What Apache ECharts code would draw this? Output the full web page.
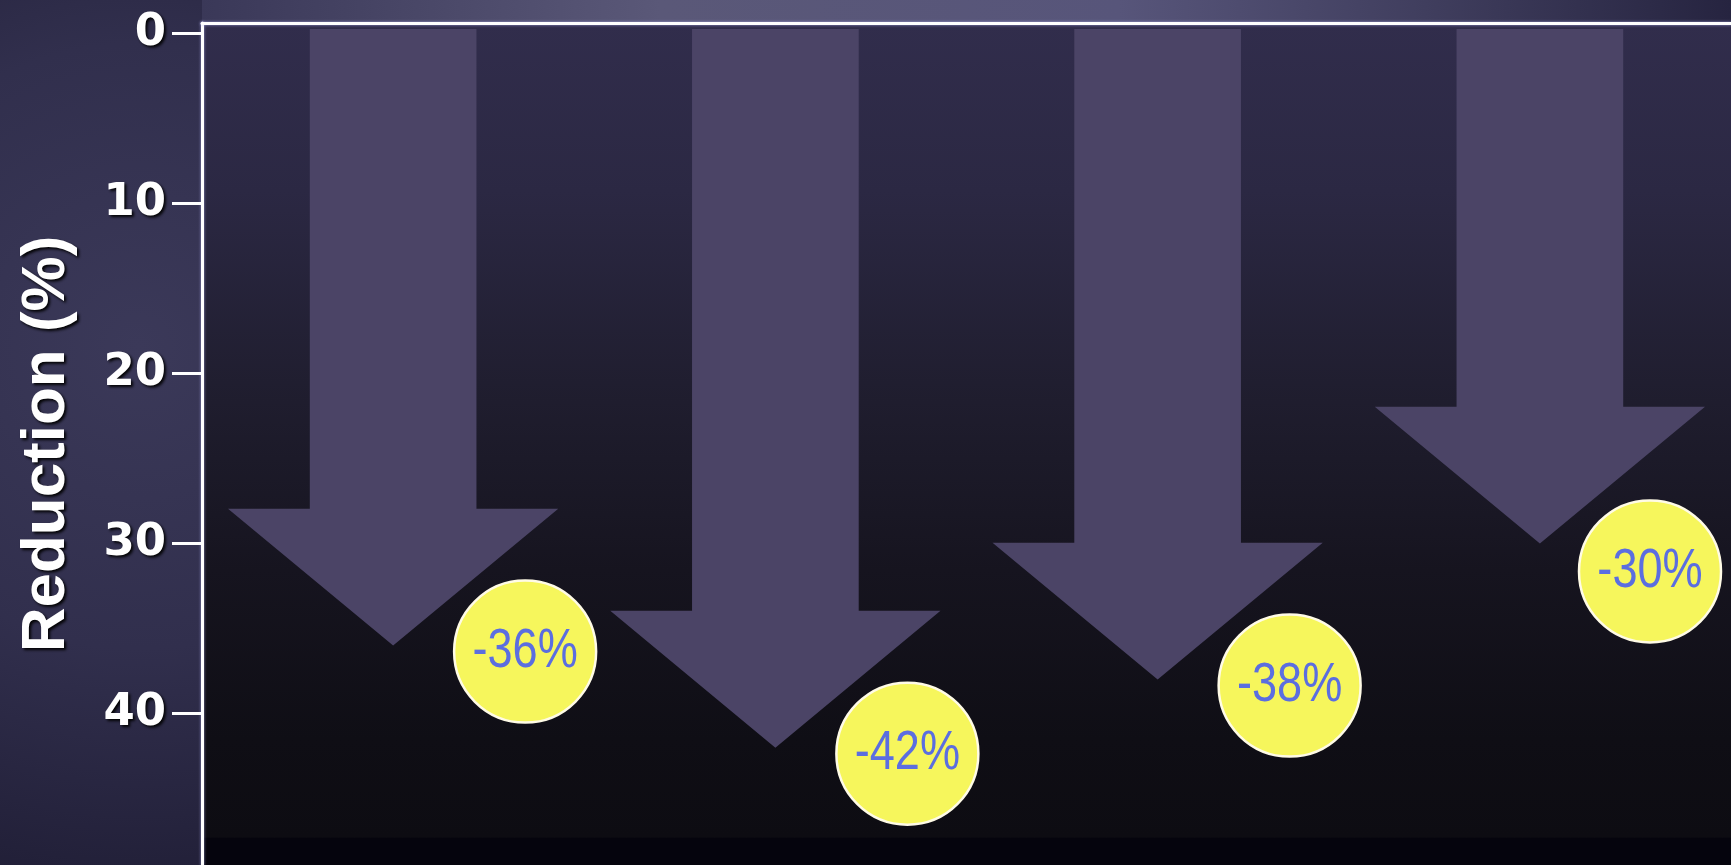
<!DOCTYPE html>
<html>
<head>
<meta charset="utf-8">
<title>Reduction (%)</title>
<script src="https://cdn.jsdelivr.net/npm/echarts@6/dist/echarts.min.js"></script>
<style>
  html, body { margin: 0; padding: 0; background: #1e1c34; }
  #chart { width: 1731px; height: 865px; }
</style>
</head>
<body>
<div id="chart"></div>
<script>
// Four groups, each showing its percentage reduction as a down arrow
const categories = ['1', '2', '3', '4'];
const reductions = [36, 42, 38, 30];
const tickValues = [0, 10, 20, 30, 40];

const chart = echarts.init(document.getElementById('chart'), null, { renderer: 'canvas' });
const W = chart.getWidth();

const arrowColor = '#4b4466';
const badgeRadius = 71;

function renderArrow(params, api) {
  const idx = api.value(0);
  const v = api.value(1);
  const band = api.size([1, 0])[0];
  const tip = api.coord([idx, v]);
  const cs = params.coordSys;
  const top = cs.y + 6;
  const cx = tip[0];
  const shaftHalf = band * 0.218;
  const headHalf = band * 0.432;
  const headLen = band * 0.358;
  const shoulder = tip[1] - headLen;
  const points = [
    [cx - shaftHalf, top],
    [cx + shaftHalf, top],
    [cx + shaftHalf, shoulder],
    [cx + headHalf, shoulder],
    [cx, tip[1]],
    [cx - headHalf, shoulder],
    [cx - shaftHalf, shoulder]
  ];
  // badge sits beside the arrow head, kept inside the canvas
  let bx = cx + 132;
  const maxX = api.getWidth() - badgeRadius - 10;
  const push = Math.max(0, bx - maxX);
  bx -= push;
  const by = tip[1] + 6 + push;
  return {
    type: 'group',
    children: [
      { type: 'polygon', shape: { points: points }, style: { fill: arrowColor } },
      {
        type: 'circle',
        shape: { cx: bx, cy: by, r: badgeRadius },
        style: { fill: '#f6f65c', stroke: '#fffbe6', lineWidth: 2.5 }
      },
      {
        // condensed lettering inside the badge
        type: 'text',
        x: bx, y: by,
        scaleX: 0.82,
        style: {
          text: '-' + v + '%',
          x: 0, y: 0,
          align: 'center', verticalAlign: 'middle',
          fill: '#5b6ee0',
          font: '55px "Liberation Sans", Arial, sans-serif'
        }
      }
    ]
  };
}

const labelShadow = {
  textShadowColor: 'rgba(0,0,0,0.95)',
  textShadowBlur: 3,
  textShadowOffsetX: 2,
  textShadowOffsetY: 2
};

const axisLineStyle = {
  color: '#ffffff', width: 3,
  shadowColor: 'rgba(190,190,255,0.7)', shadowBlur: 3
};

const option = {
  backgroundColor: new echarts.graphic.RadialGradient(0.08, 0.4, 0.7, [
    { offset: 0, color: '#3b3959' },
    { offset: 0.5, color: '#312f4d' },
    { offset: 1, color: '#1d1b32' }
  ]),
  animation: false,
  graphic: [{
    type: 'rect',
    left: 202, top: 0, z: -1,
    shape: { width: W - 202, height: 23 },
    style: {
      fill: new echarts.graphic.LinearGradient(0, 0, 1, 0, [
        { offset: 0, color: '#3a3858' },
        { offset: 0.3, color: '#5a5878' },
        { offset: 0.6, color: '#57557a' },
        { offset: 0.8, color: '#403e5e' },
        { offset: 1, color: '#262440' }
      ])
    }
  }],
  grid: {
    left: 202, right: -12, top: 23, bottom: 0,
    show: true, borderWidth: 0,
    backgroundColor: new echarts.graphic.LinearGradient(0, 0, 0, 1, [
      { offset: 0, color: '#312d4c' },
      { offset: 0.2, color: '#2b2843' },
      { offset: 0.45, color: '#1f1d2e' },
      { offset: 0.65, color: '#16141f' },
      { offset: 0.85, color: '#0f0e15' },
      { offset: 0.967, color: '#0d0c12' },
      { offset: 0.968, color: '#05040d' },
      { offset: 1, color: '#05040d' }
    ])
  },
  xAxis: {
    type: 'category',
    data: categories,
    position: 'top',
    axisLine: { show: true, onZero: false, lineStyle: axisLineStyle },
    axisTick: { show: false },
    axisLabel: { show: false },
    splitLine: { show: false }
  },
  yAxis: {
    type: 'value',
    inverse: true,
    min: -0.6,
    max: 48.9,
    name: 'Reduction (%)',
    nameLocation: 'middle',
    nameRotate: 90,
    nameGap: 124,
    nameTextStyle: Object.assign({
      color: '#ffffff',
      fontSize: 62,
      fontWeight: 'bold',
      fontFamily: '"Liberation Sans", Arial, sans-serif'
    }, labelShadow),
    axisLine: { show: true, onZero: false, lineStyle: axisLineStyle },
    axisTick: {
      show: true,
      inside: false,
      length: 30,
      customValues: tickValues,
      lineStyle: { color: '#ffffff', width: 3 }
    },
    axisLabel: Object.assign({
      customValues: tickValues,
      color: '#ffffff',
      fontSize: 45,
      fontWeight: 'bold',
      fontFamily: '"DejaVu Sans", sans-serif',
      margin: 36
    }, labelShadow),
    splitLine: { show: false }
  },
  series: [{
    type: 'custom',
    renderItem: renderArrow,
    encode: { x: 0, y: 1 },
    data: reductions.map((v, i) => [i, v]),
    clip: false
  }]
};

chart.setOption(option);
</script>
</body>
</html>
